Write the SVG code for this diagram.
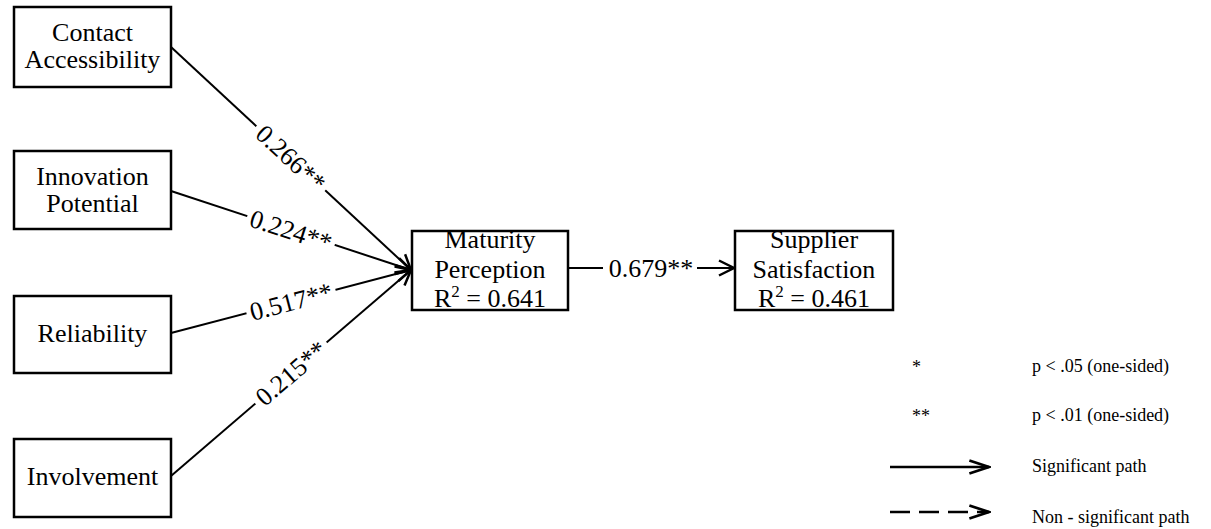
<svg xmlns="http://www.w3.org/2000/svg" width="1211" height="529" viewBox="0 0 1211 529">
<style>
.box{fill:#fff;stroke:#000;stroke-width:2.5}
.t{font-family:"Liberation Serif","Times New Roman",serif;font-size:26px;fill:#000;text-anchor:middle}
.lg{font-family:"Liberation Serif","Times New Roman",serif;font-size:18px;fill:#000}
.ln{stroke:#000;stroke-width:2;fill:none}
.bg{fill:#fff}
</style>
<defs>
<marker id="arr" markerUnits="userSpaceOnUse" markerWidth="20" markerHeight="20" viewBox="-14 -8 16 16" refX="0" refY="0" orient="auto">
<path d="M-12,-6 L0,0 L-12,6" fill="none" stroke="#000" stroke-width="2"/>
</marker>
<marker id="larr" markerUnits="userSpaceOnUse" markerWidth="24" markerHeight="20" viewBox="-20 -8 22 16" refX="0" refY="0" orient="auto">
<path d="M-18,-6 L0,0 L-18,6" fill="none" stroke="#000" stroke-width="2.5"/>
</marker>
</defs>
<g id="connectors">
<line class="ln" x1="171" y1="47" x2="411" y2="270" marker-end="url(#arr)"/>
<line class="ln" x1="171" y1="191" x2="411" y2="270" marker-end="url(#arr)"/>
<line class="ln" x1="171" y1="333" x2="411" y2="270" marker-end="url(#arr)"/>
<line class="ln" x1="171" y1="476" x2="411" y2="270" marker-end="url(#arr)"/>
<line class="ln" x1="568" y1="268" x2="734" y2="268" marker-end="url(#arr)"/>
<g transform="translate(291,158) rotate(42.8)"><rect class="bg" x="-47" y="-13" width="94" height="26"/><text class="t" x="0" y="9">0.266**</text></g>
<g transform="translate(291,230.5) rotate(17.9)"><rect class="bg" x="-46" y="-13" width="92" height="26"/><text class="t" x="0" y="9">0.224**</text></g>
<g transform="translate(291,301.5) rotate(-14.65)"><rect class="bg" x="-46" y="-13" width="92" height="26"/><text class="t" x="0" y="9">0.517**</text></g>
<g transform="translate(291,373) rotate(-40.4)"><rect class="bg" x="-47" y="-13" width="94" height="26"/><text class="t" x="0" y="9">0.215**</text></g>
<rect class="bg" x="603" y="255" width="94" height="26"/>
<text class="t" x="651" y="277">0.679**</text>
</g>
<g id="contact-accessibility">
<rect class="box" x="14" y="7" width="157" height="80"/>
<text class="t" x="92.5" y="41">Contact</text>
<text class="t" x="92.5" y="68">Accessibility</text>
</g>
<g id="innovation-potential">
<rect class="box" x="14" y="151" width="157" height="78"/>
<text class="t" x="92.5" y="185">Innovation</text>
<text class="t" x="92.5" y="212">Potential</text>
</g>
<g id="reliability">
<rect class="box" x="14" y="296" width="157" height="77"/>
<text class="t" x="92.5" y="342">Reliability</text>
</g>
<g id="involvement">
<rect class="box" x="14" y="439" width="157" height="78"/>
<text class="t" x="92.5" y="485">Involvement</text>
</g>
<g id="maturity-perception">
<rect class="box" x="412" y="231" width="156" height="79"/>
<text class="t" x="490" y="248">Maturity</text>
<text class="t" x="490" y="278">Perception</text>
<text class="t" x="490" y="307">R<tspan font-size="17" dy="-10">2</tspan><tspan dy="10"> = 0.641</tspan></text>
</g>
<g id="supplier-satisfaction">
<rect class="box" x="735" y="231" width="158" height="79"/>
<text class="t" x="814" y="248">Supplier</text>
<text class="t" x="814" y="278">Satisfaction</text>
<text class="t" x="814" y="307">R<tspan font-size="17" dy="-10">2</tspan><tspan dy="10"> = 0.461</tspan></text>
</g>
<g id="legend">
<text class="lg" x="912" y="373" font-size="20">*</text>
<text class="lg" x="1032" y="372">p &lt; .05 (one-sided)</text>
<text class="lg" x="912" y="422" font-size="20">**</text>
<text class="lg" x="1032" y="421">p &lt; .01 (one-sided)</text>
<line x1="890" y1="467" x2="989" y2="467" stroke="#000" stroke-width="2.5" marker-end="url(#larr)"/>
<text class="lg" x="1032" y="472">Significant path</text>
<line x1="890" y1="512" x2="989" y2="512" stroke="#000" stroke-width="2.5" stroke-dasharray="20 9" marker-end="url(#larr)"/>
<text class="lg" x="1032" y="523">Non - significant path</text>
</g>
</svg>
